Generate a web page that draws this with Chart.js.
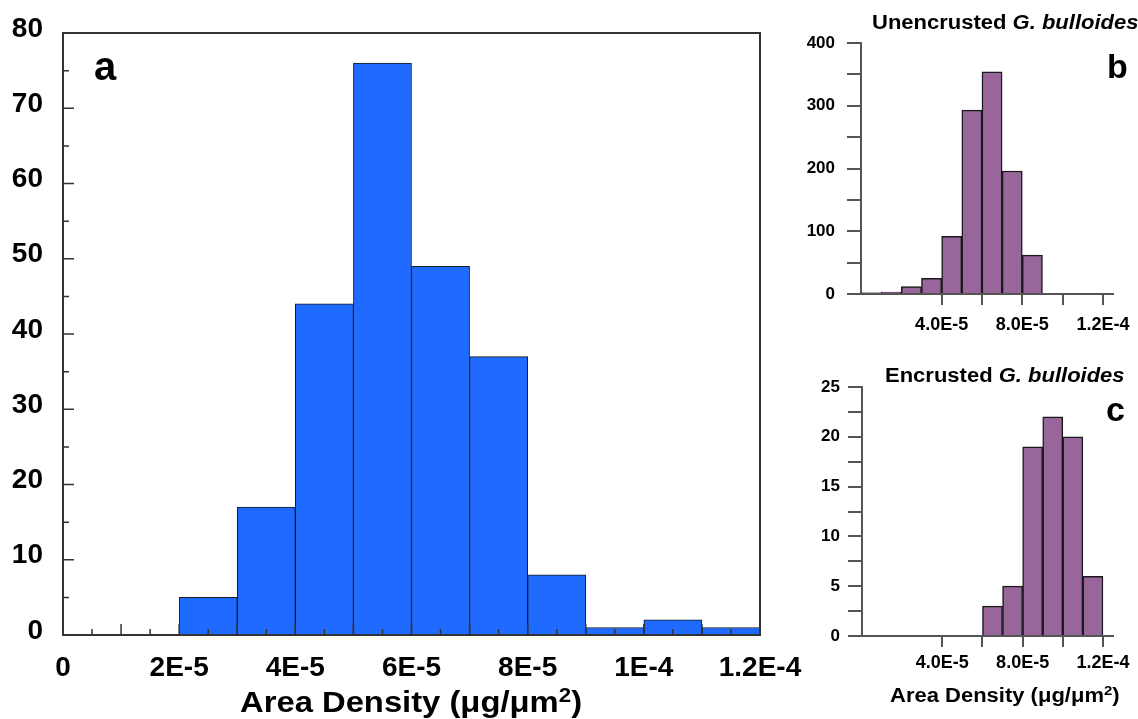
<!DOCTYPE html>
<html>
<head>
<meta charset="utf-8">
<script src="https://cdn.jsdelivr.net/npm/chart.js@4.4.0/dist/chart.umd.min.js"></script>
<style>
    body { margin: 0; background: #fff; overflow: hidden; }
    #wrap { position: relative; width: 1138px; height: 719px; overflow: hidden; font-family: "Liberation Sans", Arial, sans-serif; }
    canvas { position: absolute; }
    .lbl { position: absolute; font-weight: bold; line-height: 1; white-space: nowrap; color: #000; transform-origin: 0 0; }
    .lbl sup { font-size: 0.68em; vertical-align: 0.5em; line-height: 0; }
    .wide { transform: scaleX(1.1); }
</style>
</head>
<body>
<div id="wrap">
    <canvas id="chartA" width="820" height="719" style="left:0;top:0"></canvas>
    <canvas id="chartB" width="380" height="340" style="left:780px;top:0"></canvas>
    <canvas id="chartC" width="380" height="379" style="left:780px;top:340px"></canvas>

    <div class="lbl" style="left:94px;top:46px;font-size:40px">a</div>
    <div class="lbl" style="left:1107px;top:49px;font-size:34px">b</div>
    <div class="lbl" style="left:1106px;top:392px;font-size:34px">c</div>

    <div class="lbl wide" style="left:872px;top:12px;font-size:20px">Unencrusted <i>G. bulloides</i></div>
    <div class="lbl wide" style="left:885px;top:365px;font-size:20px">Encrusted <i>G. bulloides</i></div>
    <div class="lbl wide" style="left:890px;top:685px;font-size:20px">Area Density (μg/μm<sup>2</sup>)</div>
    <div class="lbl" id="titleA" style="top:688px;font-size:29px;transform:scaleX(1.13)">Area Density (μg/μm<sup>2</sup>)</div>
</div>

<script>
// panel a - all specimens
const aBinCenters = [2.5e-5, 3.5e-5, 4.5e-5, 5.5e-5, 6.5e-5, 7.5e-5, 8.5e-5, 9.5e-5, 10.5e-5, 11.5e-5];
const aCounts = [5, 17, 44, 76, 49, 37, 8, 1, 2, 1];
const aXTicks = [0, 2e-5, 4e-5, 6e-5, 8e-5, 1e-4, 1.2e-4];
const aXLabels = ['0', '2E-5', '4E-5', '6E-5', '8E-5', '1E-4', '1.2E-4'];
const aYTicks = [0, 10, 20, 30, 40, 50, 60, 70, 80];
const aXMajorMarks = [1e-5, 2e-5, 3e-5, 4e-5, 5e-5, 6e-5, 7e-5, 8e-5, 9e-5, 1e-4, 1.1e-4];
const aXMinorMarks = [0.5e-5, 1.5e-5, 2.5e-5, 3.5e-5, 4.5e-5, 5.5e-5, 6.5e-5, 7.5e-5, 8.5e-5, 9.5e-5, 10.5e-5, 11.5e-5];
const aYMajorMarks = [10, 20, 30, 40, 50, 60, 70];
const aYMinorMarks = [5, 15, 25, 35, 45, 55, 65, 75];

// panel b - unencrusted G. bulloides
const bBinCenters = [0.5e-5, 1.5e-5, 2.5e-5, 3.5e-5, 4.5e-5, 5.5e-5, 6.5e-5, 7.5e-5, 8.5e-5];
const bCounts = [2, 3, 12, 25, 92, 293, 354, 196, 62];
const bYTicks = [0, 50, 100, 150, 200, 250, 300, 350, 400];
const bYLabels = ['0', '', '100', '', '200', '', '300', '', '400'];

// panel c - encrusted G. bulloides
const cBinCenters = [6.5e-5, 7.5e-5, 8.5e-5, 9.5e-5, 10.5e-5, 11.5e-5];
const cCounts = [3, 5, 19, 22, 20, 6];
const cYTicks = [0, 2.5, 5, 7.5, 10, 12.5, 15, 17.5, 20, 22.5, 25];
const cYLabels = ['0', '', '5', '', '10', '', '15', '', '20', '', '25'];

// shared x ticks for b and c
const smallXTicks = [4e-5, 6e-5, 8e-5, 1e-4, 1.2e-4];
const smallXLabels = ['4.0E-5', '', '8.0E-5', '', '1.2E-4'];

Chart.defaults.font.family = '"Liberation Sans", Arial, sans-serif';
Chart.defaults.color = '#000';

const toPoints = (xs, ys) => xs.map((x, i) => ({ x: x, y: ys[i] }));
const setTicks = vals => scale => { scale.ticks = vals.map(v => ({ value: v })); };

// inward tick marks + box frame for panel a
const frameTicks = {
    id: 'frameTicks',
    afterDatasetsDraw(chart) {
        const { ctx, chartArea: a } = chart;
        const x = chart.scales.x, y = chart.scales.y;
        ctx.save();
        ctx.strokeStyle = '#333';
        ctx.lineWidth = 1.5;
        ctx.beginPath();
        aXMajorMarks.forEach(v => { const p = x.getPixelForValue(v); ctx.moveTo(p, a.bottom); ctx.lineTo(p, a.bottom - 11); });
        aXMinorMarks.forEach(v => { const p = x.getPixelForValue(v); ctx.moveTo(p, a.bottom); ctx.lineTo(p, a.bottom - 6); });
        aYMajorMarks.forEach(v => { const p = y.getPixelForValue(v); ctx.moveTo(a.left, p); ctx.lineTo(a.left + 11, p); });
        aYMinorMarks.forEach(v => { const p = y.getPixelForValue(v); ctx.moveTo(a.left, p); ctx.lineTo(a.left + 6, p); });
        ctx.stroke();
        ctx.lineWidth = 2;
        ctx.strokeRect(a.left, a.top, a.right - a.left, a.bottom - a.top);
        ctx.restore();
    }
};

const chartA = new Chart(document.getElementById('chartA'), {
    type: 'bar',
    data: {
        datasets: [{
            data: toPoints(aBinCenters, aCounts),
            backgroundColor: '#1f6bff',
            borderColor: '#1a1a1a',
            borderWidth: 1,
            barPercentage: 1,
            categoryPercentage: 1
        }]
    },
    options: {
        responsive: false,
        animation: false,
        devicePixelRatio: 1,
        layout: { padding: { top: 33, right: 60, left: 0, bottom: 0 } },
        plugins: { legend: { display: false }, tooltip: { enabled: false } },
        scales: {
            x: {
                type: 'linear', min: 0, max: 1.2e-4, offset: false,
                afterBuildTicks: setTicks(aXTicks),
                afterFit: s => { s.height = 84; },
                grid: { display: false, offset: false },
                border: { display: false },
                ticks: {
                    callback: (v, i) => aXLabels[i],
                    font: { size: 28, weight: 'bold' },
                    padding: 8, maxRotation: 0, autoSkip: false
                }
            },
            y: {
                min: 0, max: 80,
                afterBuildTicks: setTicks(aYTicks),
                afterFit: s => { s.width = 63; },
                grid: { display: false },
                border: { display: false },
                ticks: { font: { size: 28, weight: 'bold' }, padding: 12, labelOffset: -4 }
            }
        }
    },
    plugins: [frameTicks]
});

function smallHist(id, centers, counts, yMax, yTicks, yLabels, geo) {
    return new Chart(document.getElementById(id), {
        type: 'bar',
        data: {
            datasets: [{
                data: toPoints(centers, counts),
                backgroundColor: '#98669a',
                borderColor: '#1a1a1a',
                borderWidth: 1.5,
                barPercentage: 1,
                categoryPercentage: 1
            }]
        },
        options: {
            responsive: false,
            animation: false,
            devicePixelRatio: 1,
            layout: { padding: { top: geo.top, right: geo.right, left: 0, bottom: 0 } },
            plugins: { legend: { display: false }, tooltip: { enabled: false } },
            scales: {
                x: {
                    type: 'linear', min: 0, max: 1.25e-4, offset: false,
                    afterBuildTicks: setTicks(smallXTicks),
                    afterFit: s => { s.height = geo.xh; },
                    grid: { drawOnChartArea: false, tickLength: 11, color: '#555', lineWidth: 2, offset: false },
                    border: { color: '#555', width: 2 },
                    ticks: {
                        callback: (v, i) => smallXLabels[i],
                        font: { size: 18, weight: 'bold' },
                        padding: geo.xpad, maxRotation: 0, autoSkip: false
                    }
                },
                y: {
                    min: 0, max: yMax,
                    afterBuildTicks: setTicks(yTicks),
                    afterFit: s => { s.width = geo.yw; },
                    grid: { drawOnChartArea: false, tickLength: 14, color: '#555', lineWidth: 2 },
                    border: { color: '#555', width: 2 },
                    ticks: {
                        callback: (v, i) => yLabels[i],
                        font: { size: 17, weight: 'bold' },
                        padding: geo.ypad
                    }
                }
            }
        }
    });
}

const chartB = smallHist('chartB', bBinCenters, bCounts, 400, bYTicks, bYLabels,
    { top: 43, right: 47, xh: 46, yw: 81, xpad: 9, ypad: 12 });
const chartC = smallHist('chartC', cBinCenters, cCounts, 25, cYTicks, cYLabels,
    { top: 47, right: 47, xh: 83, yw: 82, xpad: 5, ypad: 8 });

// center the big axis title under panel a's plot area
const tA = document.getElementById('titleA');
const areaA = chartA.chartArea;
tA.style.left = ((areaA.left + areaA.right) / 2 - tA.offsetWidth * 1.13 / 2) + 'px';
</script>
</body>
</html>
